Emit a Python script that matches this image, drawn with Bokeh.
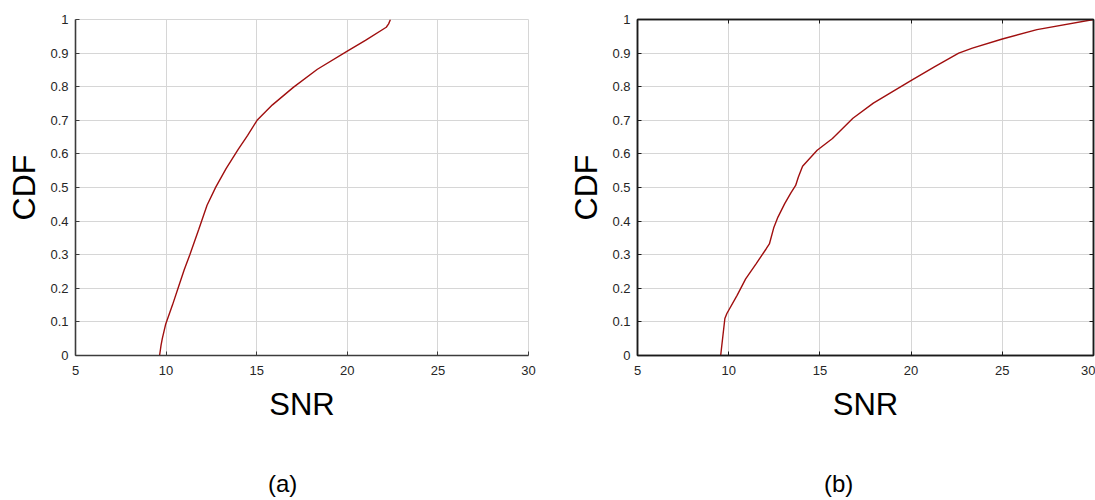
from bokeh.plotting import figure
from bokeh.layouts import row, column
from bokeh.models import FixedTicker, LinearAxis, Range1d, Div
from bokeh.embed import file_html
from bokeh.resources import INLINE

# ---- data ----
snr_a = [9.64, 9.72, 9.79, 9.98, 10.35, 10.70, 11.00, 11.31, 11.80, 12.26, 12.74,
         13.31, 13.97, 14.50, 15.02, 15.87, 17.02, 18.35, 20.00, 21.00, 22.15, 22.28, 22.38]
cdf_a = [0.0, 0.03, 0.05, 0.094, 0.15, 0.207, 0.255, 0.30, 0.375, 0.447, 0.501,
         0.556, 0.613, 0.655, 0.70, 0.746, 0.798, 0.852, 0.906, 0.938, 0.977, 0.987, 1.0]

snr_b = [9.56, 9.79, 9.90, 10.46, 10.93, 11.49, 12.05, 12.23, 12.48, 12.70, 13.07,
         13.41, 13.67, 13.82, 14.05, 14.85, 15.69, 16.81, 17.93, 19.99, 21.30, 22.61,
         23.36, 25.00, 26.90, 30.00]
cdf_b = [0.0, 0.11, 0.125, 0.179, 0.228, 0.272, 0.317, 0.332, 0.382, 0.412, 0.452,
         0.484, 0.506, 0.531, 0.563, 0.611, 0.646, 0.706, 0.751, 0.818, 0.86, 0.90,
         0.915, 0.942, 0.97, 1.0]

x_ticks = [5, 10, 15, 20, 25, 30]
y_ticks = [0, 0.1, 0.2, 0.3, 0.4, 0.5, 0.6, 0.7, 0.8, 0.9, 1]
y_tick_labels = ["0", "0.1", "0.2", "0.3", "0.4", "0.5", "0.6", "0.7", "0.8", "0.9", "1"]
x_label = "SNR"
y_label = "CDF"
captions = ["(a)", "(b)"]

FONT = "Liberation Sans"
LINE_COLOR = "#a00f0f"
GRID = "#d6d6d6"
FIG_H = 470


def style_axis(ax, ticks, labels=None, size="13px"):
    ax.ticker = FixedTicker(ticks=ticks)
    if labels is not None:
        ax.major_label_overrides = dict(zip(ticks, labels))
    ax.major_label_text_font = FONT
    ax.major_label_text_font_size = size
    ax.major_label_text_color = "#262626"
    ax.minor_tick_line_color = None
    ax.major_tick_in = 4
    ax.major_tick_out = 0
    ax.axis_label_text_font = FONT
    ax.axis_label_text_font_style = "normal"
    ax.axis_label_text_color = "#000000"


def make(xs, ys, width, bl, br, bb, boxed):
    p = figure(width=width, height=FIG_H, output_backend="svg", toolbar_location=None,
               x_range=Range1d(5, 30), y_range=Range1d(0, 1),
               min_border_left=bl, min_border_right=br, min_border_top=19,
               min_border_bottom=bb, background_fill_color="white",
               border_fill_color="white")
    p.line(xs, ys, line_color=LINE_COLOR, line_width=1.4)

    xa = p.xaxis[0]
    ya = p.yaxis[0]
    style_axis(xa, x_ticks)
    style_axis(ya, y_ticks, y_tick_labels)
    xa.axis_label = x_label
    ya.axis_label = y_label
    xa.axis_label_text_font_size = "31px"
    ya.axis_label_text_font_size = "32px"
    xa.major_label_standoff = 10
    ya.major_label_standoff = 7
    xa.axis_label_standoff = 9
    ya.axis_label_standoff = 5

    p.xgrid.ticker = FixedTicker(ticks=x_ticks)
    p.ygrid.ticker = FixedTicker(ticks=y_ticks)
    p.xgrid.grid_line_color = GRID
    p.ygrid.grid_line_color = GRID

    if boxed:
        for ax in (xa, ya):
            ax.axis_line_color = "#1a1a1a"
            ax.axis_line_width = 1.5
            ax.major_tick_line_color = "#1a1a1a"
        p.outline_line_color = "#1a1a1a"
        p.outline_line_width = 1.5
        for loc, tk in (("above", x_ticks), ("right", y_ticks)):
            extra = LinearAxis(ticker=FixedTicker(ticks=tk), major_tick_in=4,
                               major_tick_out=0, minor_tick_line_color=None,
                               major_label_text_font_size="0px",
                               major_label_text_color=None, major_label_standoff=0,
                               axis_line_color="#1a1a1a", axis_line_width=1.5,
                               major_tick_line_color="#1a1a1a")
            p.add_layout(extra, loc)
    else:
        for ax in (xa, ya):
            ax.axis_line_color = "#3c3c3c"
            ax.axis_line_width = 1.6
            ax.major_tick_line_color = "#3c3c3c"
        p.outline_line_color = GRID
        p.outline_line_width = 1
    return p


def caption_div(text, width):
    return Div(text=text, width=width, height=500 - FIG_H, margin=0,
               styles={"font-family": FONT, "font-size": "24px", "color": "#000000",
                       "padding-left": "268px", "line-height": "normal",
                       "box-sizing": "border-box"})


p1 = make(snr_a, cdf_a, 556, 75, 28, FIG_H - 356, False)
p2 = make(snr_b, cdf_b, 539, 81, 2, FIG_H - 355, True)

layout = column(row(p1, p2, spacing=0),
                row(caption_div(captions[0], 556), caption_div(captions[1], 539), spacing=0),
                spacing=0)
open("out.html", "w").write(file_html(layout, INLINE))
